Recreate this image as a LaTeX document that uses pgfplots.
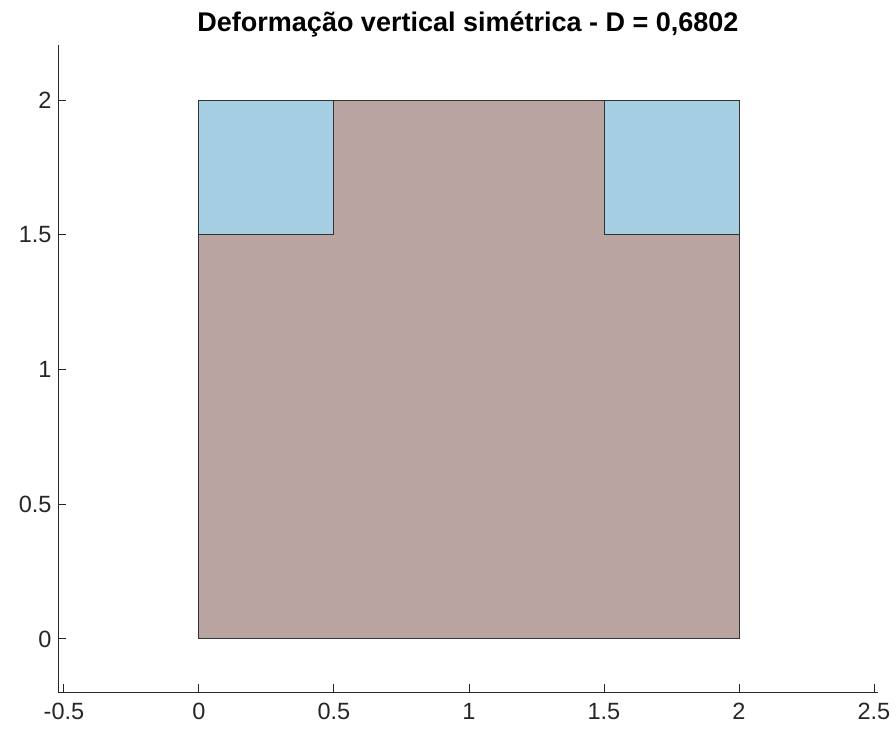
\documentclass[border=0pt]{standalone}
\usepackage{pgfplots}
\pgfplotsset{compat=1.18}
\usepackage{fontspec}
\setmainfont{Liberation Sans}
\definecolor{bluefill}{RGB}{166,206,227}
\definecolor{brownfill}{RGB}{185,164,162}
\definecolor{axgray}{RGB}{38,38,38}
\begin{document}
\begin{tikzpicture}
\begin{axis}[
  scale only axis,
  width=820pt, height=647pt,
  xmin=-0.522, xmax=2.515,
  ymin=-0.197, ymax=2.204,
  axis lines*=left,
  axis line style={axgray, line width=0.9pt},
  xtick={-0.5,0,0.5,1,1.5,2,2.5},
  ytick={0,0.5,1,1.5,2},
  xticklabels={-0.5,0,0.5,1,1.5,2,2.5},
  yticklabels={0,0.5,1,1.5,2},
  tick align=inside,
  major tick length=8pt,
  tick style={axgray, line width=0.9pt},
  ticklabel style={font=\fontsize{23.5}{28}\selectfont, text=axgray},
  xticklabel style={yshift=-8pt},
  yticklabel style={xshift=-3pt},
  title={\bfseries Deformação vertical simétrica - D = 0,6802},
  title style={font=\fontsize{27}{32}\selectfont, yshift=-2pt},
  clip=false,
]
\addplot[fill=brownfill, draw=black!80, line width=0.9pt] coordinates {(0,0) (2,0) (2,2) (0,2)} -- cycle;
\addplot[fill=bluefill, draw=black!80, line width=0.9pt] coordinates {(0,1.5) (0.5,1.5) (0.5,2) (0,2)} -- cycle;
\addplot[fill=bluefill, draw=black!80, line width=0.9pt] coordinates {(1.5,1.5) (2,1.5) (2,2) (1.5,2)} -- cycle;
\end{axis}
\path ([xshift=-58pt, yshift=-44pt]current axis.south west) rectangle ([xshift=18pt,yshift=45pt]current axis.north east);
\end{tikzpicture}
\end{document}
